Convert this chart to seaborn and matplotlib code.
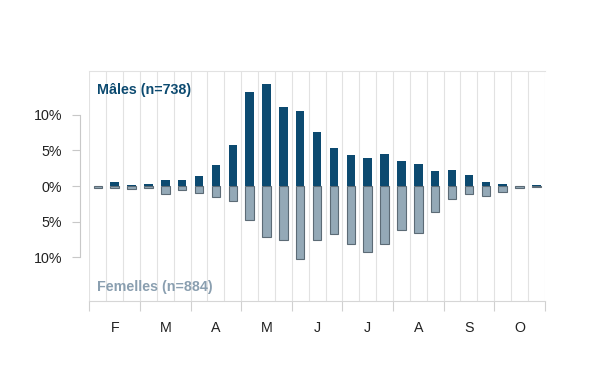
import pandas as pd
import numpy as np
import matplotlib.pyplot as plt
import seaborn as sns
from matplotlib.ticker import FuncFormatter

# 10-day bins, February to October (3 per month)
months = ["F", "M", "A", "M", "J", "J", "A", "S", "O"]
males = [0.0, 0.5, 0.2, 0.35, 0.9, 0.9, 1.35, 2.9, 5.8,
         13.2, 14.3, 11.1, 10.5, 7.6, 5.35, 4.3, 3.9, 4.45,
         3.5, 3.1, 2.1, 2.3, 1.5, 0.6, 0.35, 0.0, 0.2]
females = [0.3, 0.3, 0.4, 0.3, 1.1, 0.55, 1.0, 1.5, 2.1,
           4.8, 7.2, 7.6, 10.2, 7.6, 6.8, 8.1, 9.2, 8.2,
           6.2, 6.6, 3.6, 1.8, 1.1, 1.4, 0.8, 0.25, 0.1]

male_col = "#0c4a70"
female_col = "#94a9b7"

bins = list(range(len(males)))
df = pd.DataFrame({"bin": bins, "Males": males, "Females": [-v for v in females]})

sns.set_style("white")
plt.rcParams["font.family"] = ["Liberation Sans", "DejaVu Sans"]

fig = plt.figure(figsize=(6, 3.9), dpi=100)
ax = fig.add_axes([0.149, 0.2282, 0.759, 0.5897])

sns.barplot(data=df, x="bin", y="Females", color=female_col, width=0.5,
            edgecolor="#5c6b76", linewidth=0.8, saturation=1, ax=ax)
sns.barplot(data=df, x="bin", y="Males", color=male_col, width=0.5,
            linewidth=0, saturation=1, ax=ax)

ax.set_xlim(-0.5, len(bins) - 0.5)
ax.set_ylim(-16.15, 16.15)
ax.set_xlabel("")
ax.set_ylabel("")

# gridlines on every bin edge, ticks at month boundaries
edges = np.arange(-0.5, len(bins), 1.0)
ax.set_xticks(edges[::3])
ax.set_xticklabels([])
ax.set_xticks(edges, minor=True)
ax.grid(True, which="both", axis="x", color="#e2e2e2", linewidth=0.8)
ax.set_axisbelow(True)
ax.tick_params(axis="x", which="major", bottom=True, length=7.2,
               color="#d0d0d0", width=0.8)
ax.tick_params(axis="x", which="minor", bottom=False, length=0)
for i, m in enumerate(months):
    ax.text(3 * i + 1, -0.117, m, transform=ax.get_xaxis_transform(),
            ha="center", va="center", fontsize=10.3, color="#222222")

# y axis detached on the left
ax.set_yticks([-10, -5, 0, 5, 10])
ax.yaxis.set_major_formatter(FuncFormatter(lambda v, p: f"{abs(v):.0f}%"))
ax.spines["left"].set_position(("outward", 6.5))
ax.spines["left"].set_bounds(-10, 10)
ax.spines["left"].set_color("#c8c8c8")
ax.spines["left"].set_linewidth(0.8)
ax.tick_params(axis="y", left=True, length=6, color="#c8c8c8", width=0.8,
               labelsize=10.3, labelcolor="#222222", pad=7)

ax.spines["right"].set_visible(False)
ax.spines["top"].set_color("#e2e2e2")
ax.spines["top"].set_linewidth(0.8)
ax.spines["bottom"].set_color("#d6d6d6")
ax.spines["bottom"].set_linewidth(0.8)

ax.text(0.0165, 0.917, "Mâles (n=738)", transform=ax.transAxes,
        fontsize=10.3, fontweight="bold", color=male_col, va="center")
ax.text(0.0165, 0.061, "Femelles (n=884)", transform=ax.transAxes,
        fontsize=10.3, fontweight="bold", color="#8a9fb0", va="center")

fig.savefig("out.png", dpi=100)
